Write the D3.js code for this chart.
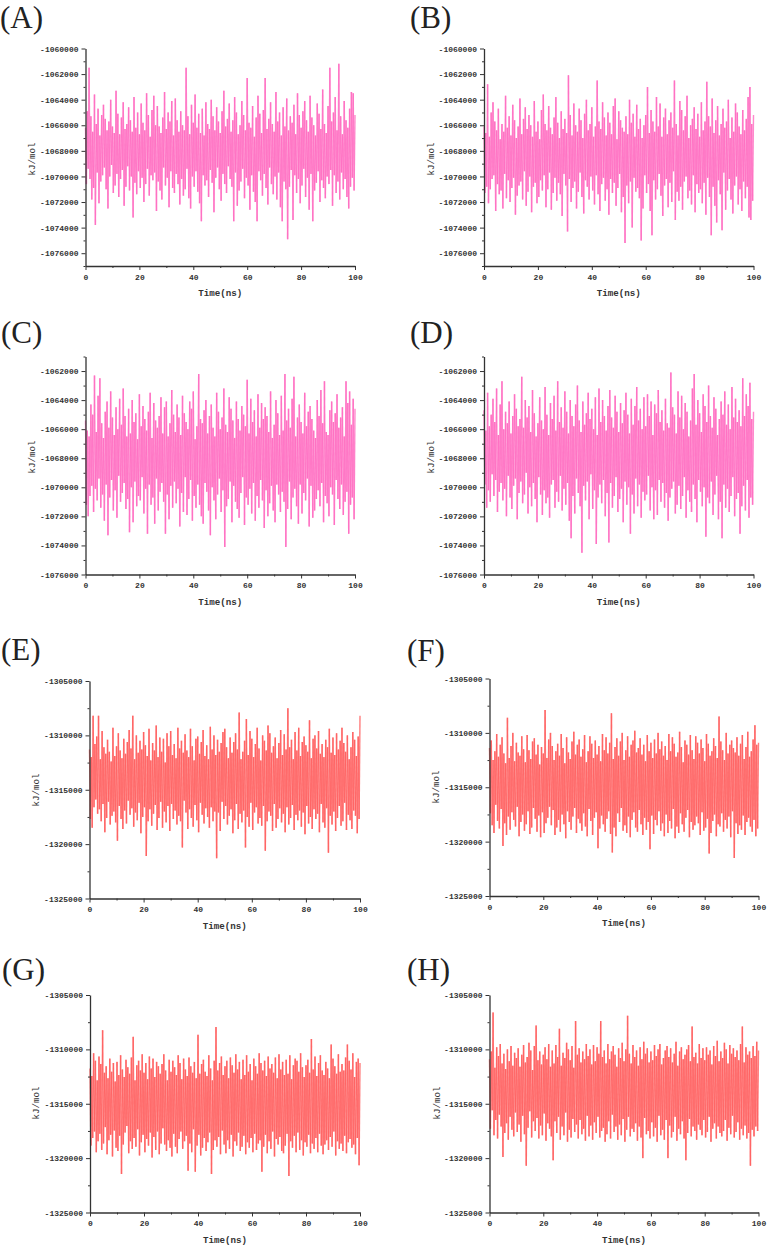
<!DOCTYPE html>
<html>
<head>
<meta charset="utf-8">
<script src="https://cdn.jsdelivr.net/npm/d3@7"></script>
<style>
  body { margin: 0; background: #fff; }
  svg { display: block; }
  .tick text { font-family: "Liberation Mono", monospace; font-size: 8px; font-weight: bold; fill: #333; }
  .axis path, .axis line { stroke: #333; }
</style>
</head>
<body>
<div id="chart"></div>
<script>
// samples of the traces, 3 per ns
var timeNs = d3.range(301).map(function(i){ return i / 3; });

// energy traces, deviation from baseline in units of 100 kJ/mol
var baseA = -1068000;
var devA = [18,-26,31,-14,65,-22,27,-38,15,-29, 44,-58,21,-17,33,-41,12,-24,28,-19,
  36,-13,25,-30,16,-45,23,-20,40,-11, 19,-33,14,-27,47,-18,29,-36,13,-22,
  26,-15,38,-43,17,-28,21,-12,34,-31, 24,-20,15,-52,42,-25,18,-34,30,-16,
  13,-29,37,-21,22,-40,16,-26,45,-14, 28,-35,11,-19,32,-23,43,-17,20,-47,
  35,-24,19,-31,14,-38,26,-13,46,-27, 17,-21,30,-44,23,-16,39,-29,12,-33,
  41,-18,24,-26,15,-42,31,-22,20,-35, 16,-30,65,-14,27,-37,13,-45,36,-20,
  22,-28,44,-16,18,-32,29,-41,14,-55, 33,-19,12,-27,38,-23,21,-36,17,-15,
  40,-25,27,-48,16,-21,34,-13,23,-30, 14,-39,31,-18,47,-26,19,-33,25,-12,
  37,-22,15,-28,24,-55,42,-17,30,-43, 13,-31,20,-24,39,-14,28,-37,16,-21,
  57,-27,22,-46,18,-19,35,-32,11,-40, 26,-55,43,-16,29,-23,14,-35,32,-18,
  57,-29,17,-42,25,-13,38,-26,21,-34, 15,-20,46,-38,23,-17,30,-44,12,-55,
  34,-24,19,-30,41,-69,16,-28,27,-15, 22,-54,36,-19,13,-33,45,-22,28,-41,
  18,-27,31,-14,39,-36,24,-21,15,-46, 43,-18,26,-55,20,-31,12,-25,37,-16,
  29,-40,17,-23,48,-29,21,-37,14,-20, 35,-26,65,-15,23,-43,30,-19,42,-33,
  16,-24,68,-38,27,-17,13,-30,39,-22, 24,-36,18,-45,33,-28,46,-21,45,-31, 28];

var baseB = -1068300;
var devB = [22,-30,17,-25,55,-38,14,-27,33,-19, 41,-16,26,-44,19,-23,36,-31,12,-28,
  24,-42,18,-15,46,-34,21,-20,30,-37, 15,-26,39,-18,27,-47,13,-32,22,-24,
  44,-21,16,-35,28,-13,37,-40,20,-29, 31,-17,23,-45,14,-25,42,-22,18,-38,
  26,-33,12,-20,35,-28,47,-16,24,-41, 19,-27,38,-14,21,-43,16,-30,29,-18,
  45,-36,25,-22,13,-31,34,-48,20,-15, 28,-24,17,-60,62,-19,31,-37,15,-26,
  40,-21,23,-42,18,-29,36,-14,27,-33, 13,-46,32,-20,43,-25,19,-35,24,-17,
  37,-28,14,-39,22,-16,58,-31,26,-44, 20,-23,41,-18,29,-36,15,-27,33,-47,
  25,-19,16,-30,38,-22,44,-40,12,-26, 34,-15,27,-45,21,-33,18,-69,30,-24,
  16,-38,43,-21,25,-57,32,-18,14,-29, 39,-26,20,-34,28,-67,13,-42,23,-16,
  31,-30,53,-23,17,-44,35,-63,26,-20, 18,-35,45,-27,22,-15,40,-32,14,-48,
  29,-24,36,-19,16,-41,27,-22,33,-37, 21,-13,58,-51,24,-29,15,-36,42,-25,
  35,-43,19,-21,30,-17,46,-34,13,-28, 23,-39,28,-16,37,-45,20,-23,32,-30,
  14,-27,41,-38,19,-22,26,-47,57,-18, 30,-33,22,-63,44,-25,17,-40,27,-53,
  38,-20,15,-31,24,-59,36,-14,21,-43, 26,-28,43,-19,13,-35,29,-46,18,-24,
  40,-17,33,-39,22,-27,16,-44,35,-21, 19,-34,28,-25,45,-49,53,-51,24,-36, 31];

var baseC = -1067900;
var devC = [25,-33,18,-41,14,-27,36,-20,29,-38, 56,-22,17,-30,42,-15,54,-35,23,-26,
  13,-44,31,-19,38,-54,20,-28,45,-16, 27,-37,15,-23,34,-42,19,-13,40,-31,
  22,-25,47,-18,28,-36,14,-29,33,-52, 16,-21,39,-45,24,-17,30,-34,12,-27,
  43,-30,21,-14,35,-39,26,-22,18,-53, 31,-19,44,-33,13,-28,37,-46,25,-15,
  20,-37,28,-24,41,-18,16,-31,34,-53, 38,-26,14,-43,23,-20,46,-35,29,-17,
  17,-32,36,-22,27,-48,15,-25,42,-38, 30,-14,24,-40,19,-29,38,-16,33,-44,
  45,-27,12,-35,21,-19,57,-33,26,-41, 23,-46,32,-18,39,-24,16,-37,28,-54,
  36,-21,20,-30,14,-43,44,-26,31,-15, 19,-38,27,-23,47,-62,22,-34,17,-29,
  41,-17,33,-45,25,-20,13,-31,38,-36, 26,-42,18,-25,35,-14,29,-47,21,-28,
  53,-33,16,-22,40,-39,24,-18,32,-44, 14,-27,43,-35,20,-16,37,-30,26,-49,
  34,-23,28,-41,17,-32,45,-20,13,-37, 22,-45,39,-19,30,-26,15,-38,42,-24,
  18,-31,57,-62,25,-36,33,-17,20,-43, 40,-28,55,-22,14,-34,27,-46,36,-19,
  24,-39,16,-25,44,-30,21,-15,31,-48, 35,-20,26,-42,18,-37,13,-29,39,-23,
  28,-34,46,-18,23,-45,52,-27,17,-32, 15,-41,32,-21,38,-26,24,-47,30,-16,
  43,-29,20,-36,27,-19,34,-40,14,-31, 52,-24,37,-53,45,-33,22,-28,40,-43, 33];

var baseD = -1067700;
var devD = [30,-21,16,-37,42,-25,19,-33,27,-14, 38,-29,22,-18,45,-40,13,-26,34,-20,
  50,-32,17,-24,29,-43,21,-15,36,-30, 14,-38,26,-22,41,-17,31,-45,19,-27,
  24,-19,53,-34,18,-28,37,-13,25,-41, 33,-23,15,-36,44,-20,28,-31,12,-47,
  21,-16,39,-28,23,-42,17,-25,46,-34, 27,-30,13,-44,35,-21,24,-18,40,-37,
  16,-26,50,-33,22,-15,32,-39,18,-24, 43,-35,29,-20,14,-46,37,-58,26,-29,
  19,-41,34,-17,47,-27,23,-36,15,-68, 36,-22,20,-32,28,-19,42,-45,24,-14,
  31,-38,17,-25,39,-62,13,-30,45,-21, 22,-34,37,-18,26,-43,16,-27,33,-61,
  44,-20,25,-37,18,-29,40,-16,29,-40, 15,-31,35,-24,21,-47,30,-19,42,-35,
  27,-23,14,-55,38,-28,20,-41,33,-17, 46,-36,23,-21,31,-44,17,-26,39,-32,
  19,-28,41,-15,26,-39,36,-23,13,-45, 34,-25,28,-42,44,-18,22,-33,30,-20,
  16,-37,38,-27,21,-46,18,-30,56,-24, 32,-19,27,-41,14,-35,43,-22,25,-38,
  40,-29,17,-16,35,-44,29,-25,12,-33, 23,-40,45,-21,55,-31,20,-47,37,-18,
  28,-26,15,-36,41,-23,33,-57,22,-30, 47,-34,26,-19,18,-42,39,-28,31,-15,
  13,-45,24,-33,36,-58,27,-21,43,-37, 20,-24,34,-40,17,-29,46,-16,25,-43,
  38,-31,22,-27,30,-55,19,-36,52,-22, 26,-39,41,-18,33,-44,49,-30,24,-35, 29];

var baseE = -1314100;
var devE = [28,-36,21,-44,59,-25,33,-18,40,-31, 59,-27,19,-38,45,-22,30,-48,24,-35,
  37,-20,26,-41,17,-33,48,-29,22,-39, 31,-56,43,-24,27,-36,20,-45,38,-28,
  24,-40,35,-19,46,-32,29,-26,59,-43, 19,-30,41,-37,25,-21,36,-49,28,-34,
  44,-25,32,-70,22,-38,47,-27,18,-42, 34,-31,27,-23,50,-46,21,-35,39,-20,
  26,-44,38,-29,16,-39,43,-24,31,-47, 45,-22,23,-36,33,-28,20,-41,48,-33,
  29,-38,36,-62,25,-19,42,-30,27,-45, 21,-27,47,-35,31,-43,18,-23,38,-37,
  40,-48,24,-21,35,-32,46,-40,22,-26, 32,-34,19,-44,49,-25,28,-38,41,-29,
  23,-72,37,-30,26,-47,34,-20,44,-36, 47,-24,30,-41,20,-33,39,-27,25,-49,
  35,-37,43,-22,28,-45,62,-31,19,-39, 26,-28,36,-62,56,-34,23,-43,45,-21,
  38,-46,21,-30,33,-25,48,-40,29,-35, 18,-42,41,-24,36,-65,27,-38,50,-29,
  43,-33,25,-47,31,-22,39,-44,20,-36, 34,-26,46,-39,23,-31,42,-48,28,-25,
  66,-41,30,-35,37,-23,19,-46,44,-32, 27,-37,48,-28,22,-43,35,-30,40,-50,
  32,-24,26,-40,55,-34,20,-45,38,-27, 41,-36,29,-31,45,-48,24,-22,33,-39,
  21,-44,37,-26,30,-67,47,-33,25,-41, 39,-29,23,-47,43,-35,28,-24,36,-42,
  48,-38,34,-21,26,-46,41,-32,19,-37, 30,-45,44,-28,37,-33,22,-49,40,-36, 59];

var baseF = -1314700;
var devF = [33,-27,40,-38,22,-45,30,-19,46,-34, 25,-41,36,-23,43,-57,28,-36,19,-47,
  61,-30,24,-42,35,-26,47,-33,21,-39, 38,-21,29,-48,26,-35,44,-28,32,-43,
  20,-37,45,-25,31,-46,23,-40,39,-22, 42,-32,27,-44,36,-29,18,-49,34,-26,
  28,-45,68,-36,24,-31,41,-21,47,-38, 35,-24,22,-47,30,-40,37,-33,26,-44,
  46,-28,33,-37,19,-50,43,-25,29,-35, 23,-42,39,-30,48,-22,27,-45,36,-32,
  41,-36,25,-43,32,-27,45,-39,20,-48, 30,-23,44,-34,37,-47,24,-31,40,-26,
  27,-59,35,-41,21,-29,46,-37,31,-44, 43,-32,28,-25,38,-46,65,-63,23,-40,
  34,-48,42,-27,26,-35,39,-22,47,-43, 22,-38,31,-45,44,-30,25,-49,36,-33,
  40,-26,49,-40,29,-44,33,-24,42,-37, 27,-47,36,-31,21,-42,45,-35,30,-60,
  38,-29,24,-46,41,-33,28,-38,47,-25, 32,-43,39,-36,26,-48,35,-28,22,-45,
  46,-34,30,-41,43,-23,37,-50,25,-39, 29,-45,48,-27,34,-37,20,-44,40,-31,
  36,-24,27,-49,45,-35,31,-42,23,-38, 44,-30,38,-36,28,-47,41,-26,33,-43,
  21,-40,46,-32,37,-64,26,-45,30,-34, 42,-28,35,-48,24,-37,62,-39,39,-27,
  31,-44,22,-33,47,-41,28,-30,36,-49, 40,-25,33,-68,29,-36,43,-46,26,-38,
  37,-42,45,-29,23,-47,34,-35,48,-31, 25,-39,30,-44,41,-33,54,-48,36,-41, 38];

var baseG = -1314850;
var devG = [31,-40,24,-33,45,-27,38,-46,20,-36, 42,-29,35,-44,66,-38,27,-23,33,-48,
  22,-35,40,-30,28,-50,36,-26,19,-42, 37,-45,25,-31,43,-66,30,-39,23,-28,
  39,-22,32,-47,26,-36,41,-43,60,-33, 20,-41,34,-25,38,-49,29,-37,44,-30,
  27,-46,36,-34,21,-40,42,-28,31,-51, 40,-32,23,-44,37,-27,33,-48,26,-38,
  35,-24,44,-39,29,-45,20,-35,39,-42, 28,-50,38,-29,32,-41,25,-47,43,-34,
  36,-27,21,-43,40,-36,30,-31,24,-63, 41,-38,33,-46,27,-25,37,-64,22,-40,
  62,-30,26,-49,35,-42,39,-33,28,-45, 24,-37,43,-28,31,-66,20,-44,38,-35,
  69,-41,29,-32,36,-48,42,-26,25,-39, 33,-47,38,-35,22,-43,41,-30,34,-50,
  27,-36,44,-40,30,-28,37,-45,21,-41, 39,-31,25,-48,43,-37,28,-42,35,-33,
  20,-46,40,-29,33,-44,26,-38,45,-35, 36,-64,29,-41,38,-30,24,-47,42,-36,
  31,-43,35,-27,27,-50,41,-34,22,-39, 44,-32,30,-45,37,-47,25,-40,39,-29,
  26,-68,43,-36,21,-42,34,-31,40,-46, 38,-28,28,-44,45,-35,32,-49,23,-37,
  34,-41,39,-30,27,-47,58,-38,30,-43, 42,-33,24,-46,36,-29,43,-40,29,-48,
  25,-39,37,-35,31,-44,22,-32,53,-41, 40,-27,33,-49,26,-36,44,-43,28,-38,
  35,-45,29,-31,41,-47,53,-37,38,-34, 30,-42,45,-39,23,-48,37,-33,40,-58, 36];

var baseH = -1313500;
var devH = [26,-38,33,-21,69,-44,18,-30,37,-47, 29,-25,40,-36,22,-64,31,-42,17,-33,
  35,-48,24,-27,38,-39,20,-45,32,-23, 27,-41,36,-34,19,-50,30,-26,39,-43,
  23,-72,28,-37,41,-22,34,-46,16,-31, 38,-40,57,-28,25,-47,33,-35,21,-44,
  30,-24,37,-49,26,-33,40,-38,19,-45, 34,-67,22,-31,39,-42,28,-27,54,-48,
  20,-36,32,-44,27,-23,41,-50,35,-39, 25,-46,38,-29,18,-41,61,-34,30,-47,
  36,-30,23,-43,33,-38,26,-49,40,-26, 29,-45,35,-35,21,-48,39,-32,24,-42,
  37,-27,31,-46,61,-40,28,-37,34,-50, 22,-43,40,-31,26,-47,33,-25,38,-41,
  30,-36,19,-48,36,-34,27,-44,41,-29, 24,-50,35,-39,66,-27,31,-45,22,-38,
  39,-41,28,-33,34,-49,20,-36,37,-46, 26,-65,42,-28,31,-43,36,-40,23,-47,
  33,-32,25,-45,39,-37,29,-50,35,-26, 40,-44,21,-39,27,-48,34,-30,38,-65,
  28,-35,36,-46,23,-41,31,-27,42,-49, 20,-38,33,-43,37,-31,26,-47,30,-67,
  35,-42,39,-29,24,-45,56,-36,28,-40, 32,-48,22,-34,40,-39,27,-44,36,-30,
  25,-46,37,-41,30,-27,34,-50,21,-38, 38,-33,29,-47,43,-36,24,-42,33,-45,
  27,-40,41,-30,35,-49,22,-37,39,-43, 31,-26,36,-46,28,-41,34,-32,25,-48,
  40,-38,56,-44,23,-35,37,-47,30,-42, 33,-72,27,-39,38,-45,29,-36,42,-40, 34];

// axis ticks
var ticksTop = [-1060000, -1062000, -1064000, -1066000, -1068000, -1070000, -1072000, -1074000, -1076000];
var ticksMid = [-1062000, -1064000, -1066000, -1068000, -1070000, -1072000, -1074000, -1076000];
var ticksLow = [-1305000, -1310000, -1315000, -1320000, -1325000];
var timeTicks = [0, 20, 40, 60, 80, 100];
var timeMinor = [10, 30, 50, 70, 90];

var pink = "#ff6cc0", red = "#ff5e5e";

var panels = [
  { tag: "(A)", base: baseA, dev: devA, color: pink, dom: [-1077000, -1060000], ticks: ticksTop, minor: 1000,
    box: [85.5, 355, 48.5, 266], lab: [0, 28], ylab: [33, 159] },
  { tag: "(B)", base: baseB, dev: devB, color: pink, dom: [-1077000, -1060000], ticks: ticksTop, minor: 1000,
    box: [484, 753.5, 48.5, 266], lab: [410, 28], ylab: [432, 159] },
  { tag: "(C)", base: baseC, dev: devC, color: pink, dom: [-1076000, -1061000], ticks: ticksMid, minor: 1000,
    box: [85.5, 355, 356.5, 574.5], lab: [1, 343], ylab: [33, 457] },
  { tag: "(D)", base: baseD, dev: devD, color: pink, dom: [-1076000, -1061000], ticks: ticksMid, minor: 1000,
    box: [484, 753.5, 356.5, 574.5], lab: [410, 343], ylab: [432, 457] },
  { tag: "(E)", base: baseE, dev: devE, color: red, dom: [-1325000, -1305000], ticks: ticksLow, minor: 2500,
    box: [89.5, 360, 681, 898.5], lab: [1, 660], ylab: [37, 790] },
  { tag: "(F)", base: baseF, dev: devF, color: red, dom: [-1325000, -1305000], ticks: ticksLow, minor: 2500,
    box: [489.5, 758.5, 678.5, 896], lab: [407, 661], ylab: [437, 787] },
  { tag: "(G)", base: baseG, dev: devG, color: red, dom: [-1325000, -1305000], ticks: ticksLow, minor: 2500,
    box: [90, 360, 995, 1212.5], lab: [2, 980], ylab: [37, 1103] },
  { tag: "(H)", base: baseH, dev: devH, color: red, dom: [-1325000, -1305000], ticks: ticksLow, minor: 2500,
    box: [489.5, 758.5, 995, 1212.5], lab: [407, 980], ylab: [438, 1103] }
];

var svg = d3.select("#chart")
    .append("svg")
        .attr("width", 767)
        .attr("height", 1245);

panels.forEach(function(p){
    var x = d3.scaleLinear().domain([0, 100]).range([p.box[0], p.box[1]]);
    var y = d3.scaleLinear().domain(p.dom).range([p.box[3], p.box[2]]);
    var g = svg.append("g");

    var data = timeNs.map(function(t, i){ return { t: t, v: p.base + p.dev[i] * 100 }; });

    // each step drawn on its own so the overlaps build up colour, as in the dense trace
    g.append("g")
        .selectAll("line")
        .data(d3.pairs(data))
        .enter()
        .append("line")
            .attr("x1", function(d){ return x(d[0].t); })
            .attr("y1", function(d){ return y(d[0].v); })
            .attr("x2", function(d){ return x(d[1].t); })
            .attr("y2", function(d){ return y(d[1].v); })
            .attr("stroke", p.color)
            .attr("stroke-opacity", 0.8)
            .attr("stroke-width", 1.4);

    // minor ticks first, then the main axes on top
    var minorY = d3.range(p.dom[0], p.dom[1] + 1, p.minor)
        .filter(function(v){ return p.ticks.indexOf(v) < 0; });

    g.append("g")
        .attr("class", "axis")
        .attr("transform", "translate(" + p.box[0] + ",0)")
        .call(d3.axisLeft(y).tickValues(minorY).tickSize(2).tickFormat("").tickSizeOuter(0))
        .select(".domain").remove();

    g.append("g")
        .attr("class", "axis")
        .attr("transform", "translate(0," + p.box[3] + ")")
        .call(d3.axisBottom(x).tickValues(timeMinor).tickSize(2).tickFormat("").tickSizeOuter(0))
        .select(".domain").remove();

    var yAxis = g.append("g")
        .attr("class", "axis")
        .attr("transform", "translate(" + p.box[0] + ",0)")
        .call(d3.axisLeft(y).tickValues(p.ticks).tickSize(4).tickPadding(3).tickSizeOuter(0)
            .tickFormat(function(d){ return "-" + Math.abs(d); }));
    yAxis.select(".domain").attr("stroke-width", 1.3);

    var xAxis = g.append("g")
        .attr("class", "axis")
        .attr("transform", "translate(0," + p.box[3] + ")")
        .call(d3.axisBottom(x).tickValues(timeTicks).tickSize(4).tickPadding(4).tickSizeOuter(0));
    xAxis.select(".domain").attr("stroke-width", 1.3);

    g.append("text")
        .attr("x", (p.box[0] + p.box[1]) / 2)
        .attr("y", p.box[3] + 30)
        .attr("text-anchor", "middle")
        .attr("font-family", "Liberation Mono, monospace")
        .attr("font-size", "9.2px")
        .attr("font-weight", "bold")
        .attr("fill", "#333")
        .text("Time(ns)");

    g.append("text")
        .attr("transform", "translate(" + p.ylab[0] + "," + p.ylab[1] + ") rotate(-90)")
        .attr("text-anchor", "middle")
        .attr("dominant-baseline", "middle")
        .attr("font-family", "Liberation Mono, monospace")
        .attr("font-size", "9.2px")
        .attr("fill", "#333")
        .text("kJ/mol");

    g.append("text")
        .attr("x", p.lab[0])
        .attr("y", p.lab[1])
        .attr("font-family", "Liberation Serif, serif")
        .attr("font-size", "31px")
        .attr("fill", "#222")
        .text(p.tag);
});
</script>
</body>
</html>
